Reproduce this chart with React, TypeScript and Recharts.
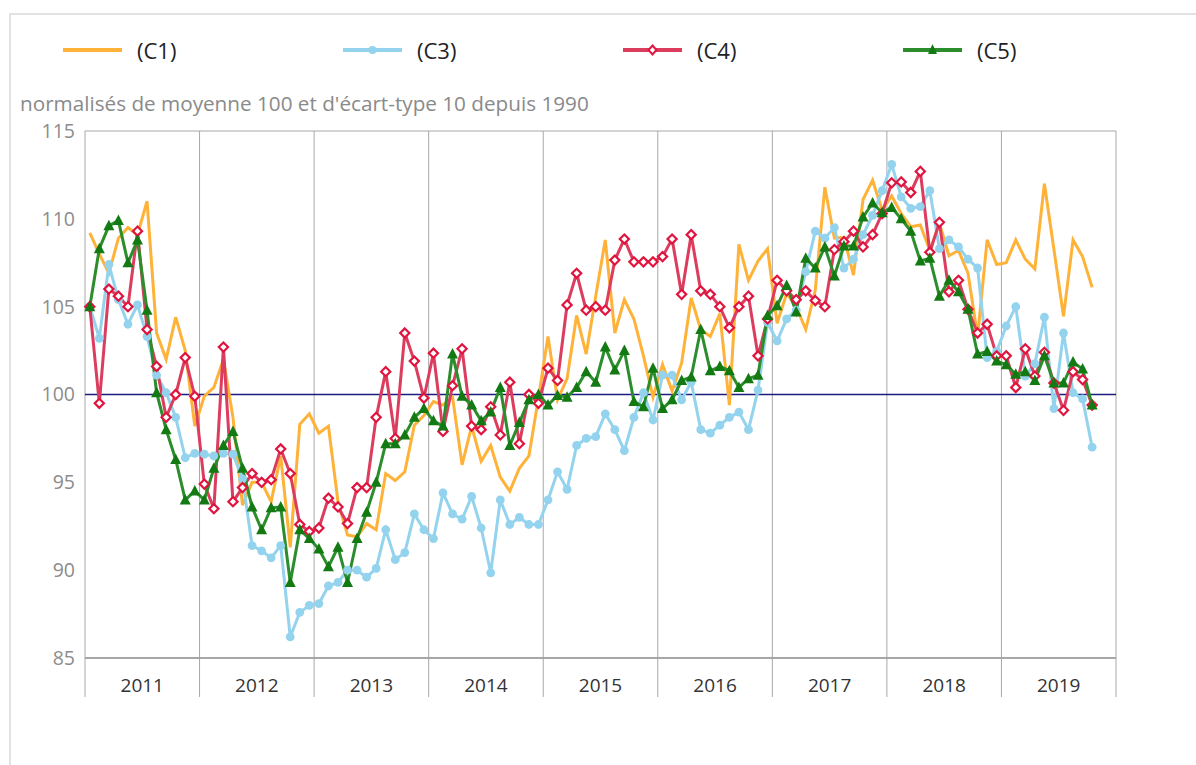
import React from 'react';
import { LineChart, Line, XAxis, YAxis, CartesianGrid, ReferenceLine } from 'recharts';

const years = ['2011', '2012', '2013', '2014', '2015', '2016', '2017', '2018', '2019'];
const yTicks = [85, 90, 95, 100, 105, 110, 115];
const subtitle = "normalisés de moyenne 100 et d'écart-type 10 depuis 1990";

const c1 = [
  109.2, 108.0, 106.9, 108.9, 109.5, 109.1, 111.0, 103.5, 102.0, 104.4, 102.5, 98.2,
  99.9, 100.4, 102.0, 98.7, 93.7, 95.0, 95.0, 93.9, 96.5, 91.3, 98.3, 98.9,
  97.8, 98.2, 93.9, 92.0, 91.9, 92.65, 92.3, 95.5, 95.1, 95.6, 98.25, 98.8,
  99.6, 99.4, 99.85, 96.0, 98.2, 96.2, 97.1, 95.3, 94.5, 95.8, 96.5, 99.8,
  103.3, 99.7, 100.9, 104.5, 102.3, 105.6, 108.8, 103.5, 105.4, 104.3, 102.2, 99.85,
  101.7, 100.2, 101.8, 105.5, 103.7, 103.3, 104.6, 99.4, 108.55, 106.5, 107.6, 108.3,
  104.05, 105.75, 105.0, 103.7, 105.95, 111.8, 108.9, 108.95, 106.8, 111.1, 112.2, 110.5,
  111.3, 110.3, 109.55, 109.65, 108.2, 109.75, 107.9, 108.2, 106.9, 103.3, 108.8, 107.4,
  107.5, 108.8, 107.7, 107.15, 112.0, 108.25, 104.45, 108.8, 107.85, 106.1,
];
const c3 = [
  105.0, 103.2, 107.4, 105.4, 104.0, 105.1, 103.3, 101.1, 100.1, 98.7, 96.4, 96.65,
  96.6, 96.5, 96.65, 96.6, 95.2, 91.4, 91.1, 90.7, 91.4, 86.2, 87.6, 88.0,
  88.1, 89.1, 89.3, 90.0, 90.0, 89.6, 90.1, 92.3, 90.6, 91.0, 93.2, 92.3,
  91.8, 94.4, 93.2, 92.9, 94.2, 92.4, 89.85, 94.0, 92.6, 93.0, 92.6, 92.6,
  94.0, 95.6, 94.6, 97.1, 97.5, 97.6, 98.9, 98.0, 96.8, 98.7, 100.1, 98.55,
  101.1, 101.1, 99.7, 100.7, 98.0, 97.8, 98.25, 98.7, 99.0, 98.0, 100.25, 104.1,
  103.05, 104.3, 104.8, 107.0, 109.3, 108.9, 109.5, 107.2, 107.7, 109.1, 110.2, 111.6,
  113.1, 111.25, 110.6, 110.7, 111.6, 108.3, 108.8, 108.4, 107.7, 107.2, 102.1, 102.45,
  103.9, 105.0, 101.05, 101.75, 104.4, 99.2, 103.5, 100.1, 99.75, 97.0,
];
const c4 = [
  105.0, 99.5, 106.0, 105.6, 105.0, 109.3, 103.7, 101.6, 98.7, 100.0, 102.1, 99.9,
  94.9, 93.5, 102.7, 93.9, 94.7, 95.5, 95.0, 95.15, 96.9, 95.5, 92.6, 92.2,
  92.4, 94.1, 93.6, 92.65, 94.7, 94.7, 98.7, 101.3, 97.5, 103.5, 101.9, 99.8,
  102.35, 97.9, 100.5, 102.6, 98.2, 98.0, 99.3, 97.7, 100.7, 97.2, 100.0, 99.5,
  101.5, 100.8, 105.1, 106.9, 104.8, 105.0, 104.8, 107.65, 108.85, 107.55, 107.55, 107.55,
  107.85, 108.85, 105.7, 109.1, 105.9, 105.7, 105.0, 103.8, 105.0, 105.6, 102.2, 104.3,
  106.5, 105.9, 105.4, 105.9, 105.35, 105.0, 108.25, 108.7, 109.3, 108.4, 109.1, 110.3,
  112.05, 112.1, 111.5, 112.7, 108.1, 109.8, 105.85, 106.5, 104.85, 103.5, 104.0, 102.2,
  102.2, 100.4, 102.6, 101.05, 102.4, 100.65, 99.1, 101.3, 100.85, 99.4,
];
const c5 = [
  105.0, 108.3, 109.6, 109.9, 107.5, 108.8, 104.8, 100.1, 98.0, 96.3, 94.0, 94.5,
  94.0, 95.8, 97.1, 97.9, 95.8, 93.6, 92.3, 93.55, 93.6, 89.3, 92.3, 91.8,
  91.2, 90.2, 91.3, 89.3, 91.8, 93.3, 95.0, 97.2, 97.2, 97.7, 98.7, 99.2,
  98.5, 98.2, 102.3, 99.9, 99.4, 98.5, 99.0, 100.4, 97.1, 98.4, 99.7, 100.0,
  99.4, 99.95, 99.85, 100.4, 101.3, 100.7, 102.7, 101.4, 102.5, 99.6, 99.3, 101.5,
  99.2, 99.7, 100.8, 101.0, 103.7, 101.35, 101.6, 101.35, 100.4, 100.9, 101.1, 104.5,
  105.05, 106.2, 104.7, 107.75, 107.2, 108.4, 106.75, 108.45, 108.45, 110.1, 110.9, 110.35,
  110.65, 110.0, 109.3, 107.6, 107.75, 105.6, 106.5, 105.85, 104.85, 102.3, 102.45, 101.9,
  101.7, 101.15, 101.3, 100.8, 102.2, 100.65, 100.65, 101.85, 101.45, 99.4,
];

const MONTHS = 12;
const data = c1.map((v, i) => ({ x: i + 0.5, c1: v, c3: c3[i], c4: c4[i], c5: c5[i] }));
const yearBounds = years.map((_, k) => k * MONTHS).concat([years.length * MONTHS]);
const xTicks: number[] = [];
years.forEach((_, k) => { xTicks.push(k * MONTHS, k * MONTHS + MONTHS / 2); });
xTicks.push(years.length * MONTHS);

const FONT = '"Open Sans", sans-serif';
const COLORS = {
  c1: '#FFB238',
  c3: '#94D3EE',
  c4line: '#DC3D5E',
  c4mark: '#E0153F',
  c5line: '#2B8D2B',
  c5mark: '#137A13',
};

const XTick = (props: any) => {
  const { x, y, payload } = props;
  const v = payload.value as number;
  if (v % MONTHS === 0) {
    return <line x1={x} x2={x} y1={y} y2={y + 39} stroke="#a8a8a8" strokeWidth={1} />;
  }
  return (
    <text x={x} y={y + 27} textAnchor="middle" dominantBaseline="central" fill="#333" fontSize={19} fontFamily={FONT}>
      {years[Math.floor(v / MONTHS)]}
    </text>
  );
};

const Circle = (props: any) => {
  const { cx, cy, index } = props;
  if (cx == null || cy == null) return <g key={index} />;
  return <circle key={index} cx={cx} cy={cy} r={4.4} fill={COLORS.c3} />;
};
const Diamond = (props: any) => {
  const { cx, cy, index } = props;
  if (cx == null || cy == null) return <g key={index} />;
  const s = 4.6;
  return (
    <path key={index} d={`M${cx},${cy - s}L${cx + s},${cy}L${cx},${cy + s}L${cx - s},${cy}Z`} fill="#fff" stroke={COLORS.c4mark} strokeWidth={2.2} />
  );
};
const Triangle = (props: any) => {
  const { cx, cy, index } = props;
  if (cx == null || cy == null) return <g key={index} />;
  return (
    <path key={index} d={`M${cx},${cy - 6}L${cx + 5.5},${cy + 4.5}L${cx - 5.5},${cy + 4.5}Z`} fill={COLORS.c5mark} />
  );
};

const legendItems = [
  { key: 'c1', label: '(C1)', color: COLORS.c1, marker: null as any },
  { key: 'c3', label: '(C3)', color: COLORS.c3, marker: 'circle' },
  { key: 'c4', label: '(C4)', color: COLORS.c4line, marker: 'diamond' },
  { key: 'c5', label: '(C5)', color: COLORS.c5line, marker: 'triangle' },
];

const LegendBlock = () => (
  <svg width={1196} height={40} style={{ position: 'absolute', left: 0, top: 30 }}>
    {legendItems.map((it, k) => {
      const x0 = 63 + 280 * k;
      const cy = 20;
      const mx = x0 + 29.5;
      return (
        <g key={it.key}>
          <line x1={x0} x2={x0 + 59} y1={cy} y2={cy} stroke={it.color} strokeWidth={4} />
          {it.marker === 'circle' && <circle cx={mx} cy={cy} r={4} fill={COLORS.c3} />}
          {it.marker === 'diamond' && (
            <path d={`M${mx},${cy - 4.5}L${mx + 4},${cy}L${mx},${cy + 4.5}L${mx - 4},${cy}Z`} fill="#fff" stroke={COLORS.c4mark} strokeWidth={2} />
          )}
          {it.marker === 'triangle' && (
            <path d={`M${mx},${cy - 6}L${mx + 4.5},${cy + 4}L${mx - 4.5},${cy + 4}Z`} fill={COLORS.c5mark} />
          )}
          <text x={x0 + 74} y={cy} dominantBaseline="central" fontSize={22} fill="#222" fontFamily={FONT}>
            {it.label}
          </text>
        </g>
      );
    })}
  </svg>
);

export default function App() {
  return (
    <div style={{ position: 'absolute', left: 0, top: 0, width: 1196, height: 765, background: '#fff', overflow: 'hidden' }}>
      <div style={{ position: 'absolute', left: 9, top: 13, width: 1300, height: 900, borderLeft: '2px solid #e2e2e2', borderTop: '2px solid #e2e2e2' }} />
      <LegendBlock />
      <div style={{ position: 'absolute', left: 20, top: 90, fontFamily: FONT, fontSize: 20.7, color: '#8a8a8a', whiteSpace: 'nowrap', lineHeight: '26px' }}>
        {subtitle}
      </div>
      <div style={{ position: 'absolute', left: 0, top: 0 }}>
        <LineChart width={1196} height={765} data={data} margin={{ top: 131, right: 20, bottom: 0, left: 25 }}>
          <CartesianGrid vertical={false} stroke="#a8a8a8" strokeWidth={1} />
          <XAxis
            dataKey="x"
            type="number"
            domain={[0, years.length * MONTHS]}
            ticks={xTicks}
            interval={0}
            height={107}
            tickSize={0}
            tickMargin={0}
            tickLine={false}
            axisLine={{ stroke: '#999', strokeWidth: 1.5 }}
            tick={<XTick />}
          />
          <YAxis
            yAxisId="left"
            domain={[85, 115]}
            ticks={yTicks}
            interval={0}
            width={60}
            axisLine={false}
            tickLine={false}
            tickSize={0}
            tickMargin={10}
            tick={{ fill: '#8c8c8c', fontSize: 19.5, fontFamily: FONT }}
          />
          <YAxis
            yAxisId="right"
            orientation="right"
            domain={[85, 115]}
            ticks={yTicks}
            interval={0}
            width={60}
            axisLine={false}
            tickLine={false}
            tickSize={0}
            tickMargin={8}
            tick={{ fill: '#8c8c8c', fontSize: 19.5, fontFamily: FONT, textAnchor: 'start' }}
          />
          {yearBounds.map((b) => (
            <ReferenceLine key={b} x={b} yAxisId="left" stroke="#a8a8a8" strokeWidth={1} />
          ))}
          <ReferenceLine y={100} yAxisId="left" stroke="#1c1c80" strokeWidth={1.6} />
          <Line yAxisId="left" dataKey="c1" stroke={COLORS.c1} strokeWidth={3} dot={false} isAnimationActive={false} />
          <Line yAxisId="left" dataKey="c3" stroke={COLORS.c3} strokeWidth={3} dot={<Circle />} isAnimationActive={false} />
          <Line yAxisId="left" dataKey="c4" stroke={COLORS.c4line} strokeWidth={3} dot={<Diamond />} isAnimationActive={false} />
          <Line yAxisId="left" dataKey="c5" stroke={COLORS.c5line} strokeWidth={3} dot={<Triangle />} isAnimationActive={false} />
        </LineChart>
      </div>
    </div>
  );
}
